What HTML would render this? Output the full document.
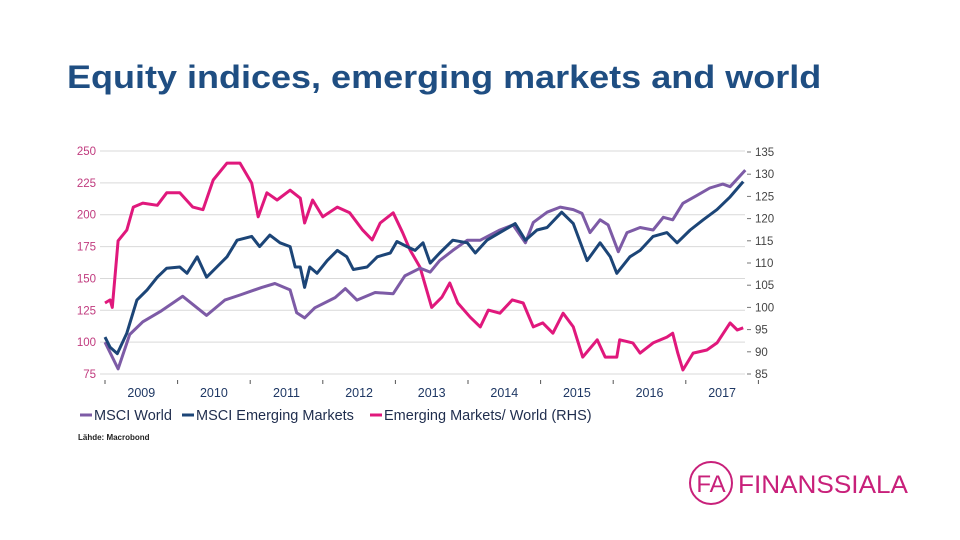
<!DOCTYPE html>
<html><head><meta charset="utf-8"><style>
body{margin:0;background:#fff;}
#wrap{position:relative;width:960px;height:540px;overflow:hidden;font-family:"Liberation Sans",sans-serif;}
#title{position:absolute;left:67px;top:59px;font-size:32px;font-weight:bold;color:#1f4e82;white-space:nowrap;transform:scaleX(1.125);transform-origin:0 0;}
</style></head><body>
<div id="wrap">
<div id="title">Equity indices, emerging markets and world</div>
<svg id="chart" width="960" height="540" style="position:absolute;left:0;top:0"></svg>
</div>
<script>
const leftTicks=[250,225,200,175,150,125,100,75];
const rightTicks=[135,130,125,120,115,110,105,100,95,90,85];
const years=[2009,2010,2011,2012,2013,2014,2015,2016,2017];
const worldDates=[2009.00,2009.18,2009.34,2009.52,2009.76,2010.07,2010.40,2010.65,2010.86,2011.16,2011.34,2011.55,2011.64,2011.75,2011.89,2012.17,2012.31,2012.47,2012.72,2012.97,2013.13,2013.34,2013.48,2013.61,2013.79,2013.99,2014.17,2014.44,2014.62,2014.79,2014.90,2015.09,2015.27,2015.45,2015.57,2015.68,2015.82,2015.93,2016.07,2016.19,2016.37,2016.55,2016.69,2016.82,2016.96,2017.15,2017.33,2017.51,2017.61,2017.82];
const worldValues=[100,79,106,116,124,136,121,133,137,143,146,141,123,119,127,135,142,133,139,138,152,158,155,164,172,180,180,188,192,178,194,202,206,204,201,186,196,192,171,186,190,188,198,196,209,215,221,224,222,235];
const emDates=[2009.00,2009.07,2009.17,2009.30,2009.44,2009.58,2009.72,2009.85,2010.03,2010.13,2010.27,2010.40,2010.54,2010.68,2010.82,2011.02,2011.13,2011.27,2011.41,2011.55,2011.62,2011.69,2011.75,2011.82,2011.92,2012.06,2012.20,2012.33,2012.42,2012.61,2012.75,2012.93,2013.02,2013.16,2013.27,2013.38,2013.48,2013.61,2013.79,2013.99,2014.10,2014.26,2014.44,2014.65,2014.79,2014.95,2015.09,2015.29,2015.45,2015.64,2015.82,2015.96,2016.05,2016.23,2016.37,2016.55,2016.74,2016.88,2017.06,2017.24,2017.43,2017.61,2017.79];
const emValues=[104,96,91,107,133,141,151,158,159,154,167,151,159,167,180,183,175,184,178,175,159,159,143,159,154,164,172,167,157,159,167,170,179,175,172,178,162,170,180,178,170,180,186,193,180,188,190,202,193,164,178,167,154,167,172,183,186,178,188,196,204,214,226];
const ratioDates=[2009.00,2009.07,2009.10,2009.18,2009.30,2009.39,2009.52,2009.72,2009.85,2010.03,2010.21,2010.35,2010.49,2010.68,2010.86,2011.02,2011.11,2011.23,2011.37,2011.55,2011.69,2011.75,2011.86,2012.00,2012.20,2012.37,2012.55,2012.68,2012.79,2012.97,2013.10,2013.20,2013.34,2013.50,2013.64,2013.75,2013.86,2014.03,2014.17,2014.28,2014.44,2014.61,2014.76,2014.90,2015.03,2015.17,2015.31,2015.45,2015.58,2015.78,2015.89,2016.05,2016.09,2016.27,2016.37,2016.55,2016.74,2016.82,2016.89,2016.96,2017.10,2017.29,2017.43,2017.61,2017.71,2017.79];
const ratioValues=[101,101.7,100,115,117.4,122.6,123.5,123,125.8,125.8,122.6,122,128.7,132.5,132.5,128,120.4,125.8,124.2,126.4,124.6,119,124.2,120.4,122.6,121.3,117.4,115.2,119,121.3,116.8,113,109,100,102.3,105.5,101,97.8,95.6,99.4,98.7,101.7,101,95.6,96.5,94.2,98.7,95.6,88.8,92.7,88.8,88.8,92.7,92,89.7,92,93.3,94.2,89.7,85.9,89.7,90.4,92,96.5,94.9,95.4];

const NS="http://www.w3.org/2000/svg";
const svg=document.getElementById('chart');
const X=t=>105+(t-2009)*72.6;
const YL=v=>151+(250-v)/25*31.86;
const YR=v=>152+(135-v)/5*22.2;
function mk(tag,attrs,parent){const e=document.createElementNS(NS,tag);for(const k in attrs)e.setAttribute(k,attrs[k]);(parent||svg).appendChild(e);return e;}

leftTicks.forEach(v=>{
  const g=mk('line',{x1:100,x2:745,y1:YL(v),y2:YL(v),stroke:'#d9d9d9','stroke-width':1});
  
  
  const t=mk('text',{x:96,y:YL(v)+4,'text-anchor':'end','font-size':11.5,fill:'#c03a7e','font-family':'Liberation Sans, sans-serif'});
  t.textContent=v;
  
  
});
rightTicks.forEach(v=>{
  const tk=mk('line',{x1:747,x2:751,y1:YR(v),y2:YR(v),stroke:'#777','stroke-width':1});
  
  
  const t=mk('text',{x:755,y:YR(v)+4,'font-size':11.5,fill:'#444','font-family':'Liberation Sans, sans-serif'});
  t.textContent=v;
  
  
});
years.forEach(y=>{
  const tk=mk('line',{x1:X(y),x2:X(y),y1:380,y2:384,stroke:'#555','stroke-width':1});
  
  
  const t=mk('text',{x:X(y+0.5),y:397,'text-anchor':'middle','font-size':12.5,fill:'#1f3864','font-family':'Liberation Sans, sans-serif'});
  t.textContent=y;
  
  
});
const tk2=mk('line',{x1:X(2018),x2:X(2018),y1:380,y2:384,stroke:'#555'});



function series(dates,vals,yf,color,name){
  const d=dates.map((t,i)=>(i?'L':'M')+X(t).toFixed(1)+','+yf(vals[i]).toFixed(1)).join('');
  const p=mk('path',{d:d,fill:'none',stroke:color,'stroke-width':3,'stroke-linejoin':'round'});
  
  
}
series(ratioDates,ratioValues,YR,'#e0187c','em-world-ratio-line');
series(worldDates,worldValues,YL,'#7d5ba6','msci-world-line');
series(emDates,emValues,YL,'#1c4577','msci-em-line');

const legend=[['MSCI World','#7d5ba6',80],['MSCI Emerging Markets','#1c4577',182],['Emerging Markets/ World (RHS)','#e0187c',370]];
legend.forEach(l=>{
  const g=mk('g',{});
  
  
  mk('line',{x1:l[2],x2:l[2]+12,y1:415,y2:415,stroke:l[1],'stroke-width':3},g);
  const t=mk('text',{x:l[2]+14,y:420,'font-size':14.5,fill:'#1f2d4d','font-family':'Liberation Sans, sans-serif'},g);
  t.textContent=l[0];
});
const src=mk('text',{x:78,y:440,'font-size':8,'font-weight':'bold',fill:'#222','font-family':'Liberation Sans, sans-serif'});
src.textContent='Lähde: Macrobond';



const logo=mk('g',{});


mk('circle',{cx:711,cy:483,r:21,fill:'none',stroke:'#c8207a','stroke-width':2},logo);
const fa=mk('text',{x:711,y:492,'text-anchor':'middle','font-size':24,fill:'#c8207a','font-family':'Liberation Sans, sans-serif'},logo);
fa.textContent='FA';
const fn=mk('text',{x:738,y:493,'font-size':25,fill:'#c8207a','font-family':'Liberation Sans, sans-serif',textLength:170,lengthAdjust:'spacingAndGlyphs'},logo);
fn.textContent='FINANSSIALA';
</script>
</body></html>
